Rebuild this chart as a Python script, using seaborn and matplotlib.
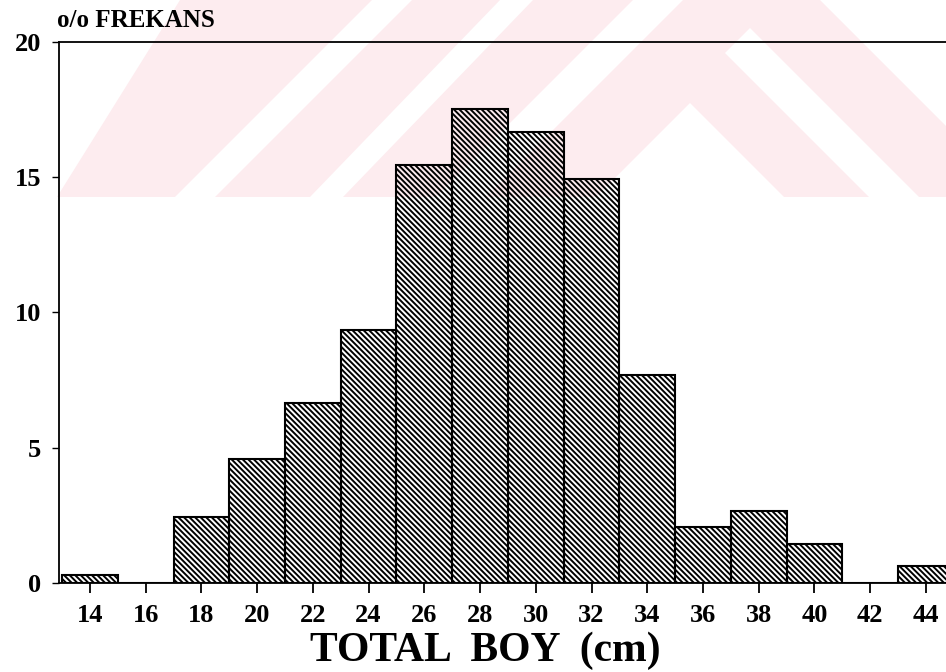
import numpy as np
import pandas as pd
import matplotlib
matplotlib.use("Agg")
import matplotlib.pyplot as plt
import seaborn as sns
from matplotlib.patches import Polygon

# Length classes (bin centres, cm) and percent frequency
boy = [14, 16, 18, 20, 22, 24, 26, 28, 30, 32, 34, 36, 38, 40, 42, 44]
frekans = [0.3, 0.0, 2.44, 4.58, 6.65, 9.35, 15.44, 17.52, 16.67, 14.91,
           7.68, 2.07, 2.66, 1.44, 0.0, 0.63]
x_ticks = [14, 16, 18, 20, 22, 24, 26, 28, 30, 32, 34, 36, 38, 40, 42, 44]
y_ticks = [0, 5, 10, 15, 20]

df = pd.DataFrame({'boy': boy, 'frekans': frekans})

sns.set_theme(style="white")
plt.rcParams['font.family'] = ['Liberation Serif', 'DejaVu Serif']
plt.rcParams['font.weight'] = 'bold'
plt.rcParams['text.color'] = 'black'
plt.rcParams['hatch.linewidth'] = 1.4
plt.rcParams['hatch.color'] = 'black'

W, H = 946, 672
fig = plt.figure(figsize=(W / 100, H / 100), dpi=100)
fig.patch.set_facecolor('white')


# faint pink watermark in the background (pixel coords, origin top-left)
def px(points):
    return [(x / W, 1 - y / H) for x, y in points]


pink = '#fdecef'
fig.patches.append(Polygon(px([(180, 0), (820, 0), (1017, 197), (57, 197)]),
                           closed=True, transform=fig.transFigure,
                           facecolor=pink, edgecolor='none', zorder=-10))
white_bands = [
    [(372, 0), (412, 0), (215, 197), (175, 197)],
    [(500, 0), (533, 0), (343, 197), (310, 197)],
    [(633, 0), (683, 0), (486, 197), (436, 197)],
    [(690, 103), (784, 197), (596, 197)],
    [(725, 53), (750, 28), (919, 197), (869, 197)],
]
for band in white_bands:
    fig.patches.append(Polygon(px(band), closed=True, transform=fig.transFigure,
                               facecolor='white', edgecolor='none', zorder=-9))

ax = fig.add_axes([59.3 / W, 1 - 583 / H, 1 - 59.3 / W, (583 - 41.7) / H])
ax.patch.set_alpha(0)

sns.histplot(data=df, x='boy', weights='frekans', binwidth=2,
             binrange=(13, 45), ax=ax, color='white',
             edgecolor='black', linewidth=1.5, alpha=1)
for p in ax.patches:
    p.set_hatch('\\' * 6)
    p.set_facecolor((1, 1, 1, 0))
    p.set_edgecolor('black')

ax.set_xlim(12.9, 44.72)
ax.set_ylim(0, 20)
ax.set_xticks(x_ticks)
ax.set_yticks(y_ticks)
ax.set_xlabel('')
ax.set_ylabel('')

for side in ['left', 'top', 'bottom']:
    ax.spines[side].set_visible(True)
    ax.spines[side].set_color('black')
    ax.spines[side].set_linewidth(1.3)
ax.spines['right'].set_visible(False)

ax.tick_params(axis='x', direction='out', length=7, width=1.3, pad=8,
               labelsize=19, bottom=True, colors='black')
ax.tick_params(axis='y', direction='out', length=5, width=1.0, pad=8,
               labelsize=19, left=True, colors='black')
for lab in ax.get_xticklabels() + ax.get_yticklabels():
    lab.set_fontweight('bold')

fig.text(57 / W, 1 - 27 / H, 'o/o FREKANS', fontsize=18, fontweight='bold',
         color='black', ha='left', va='baseline')
fig.text(485 / W, 1 - 651 / H, 'TOTAL  BOY  (cm)', fontsize=30,
         fontweight='bold', color='black', ha='center', va='center')

fig.savefig('out.png', dpi=100)
